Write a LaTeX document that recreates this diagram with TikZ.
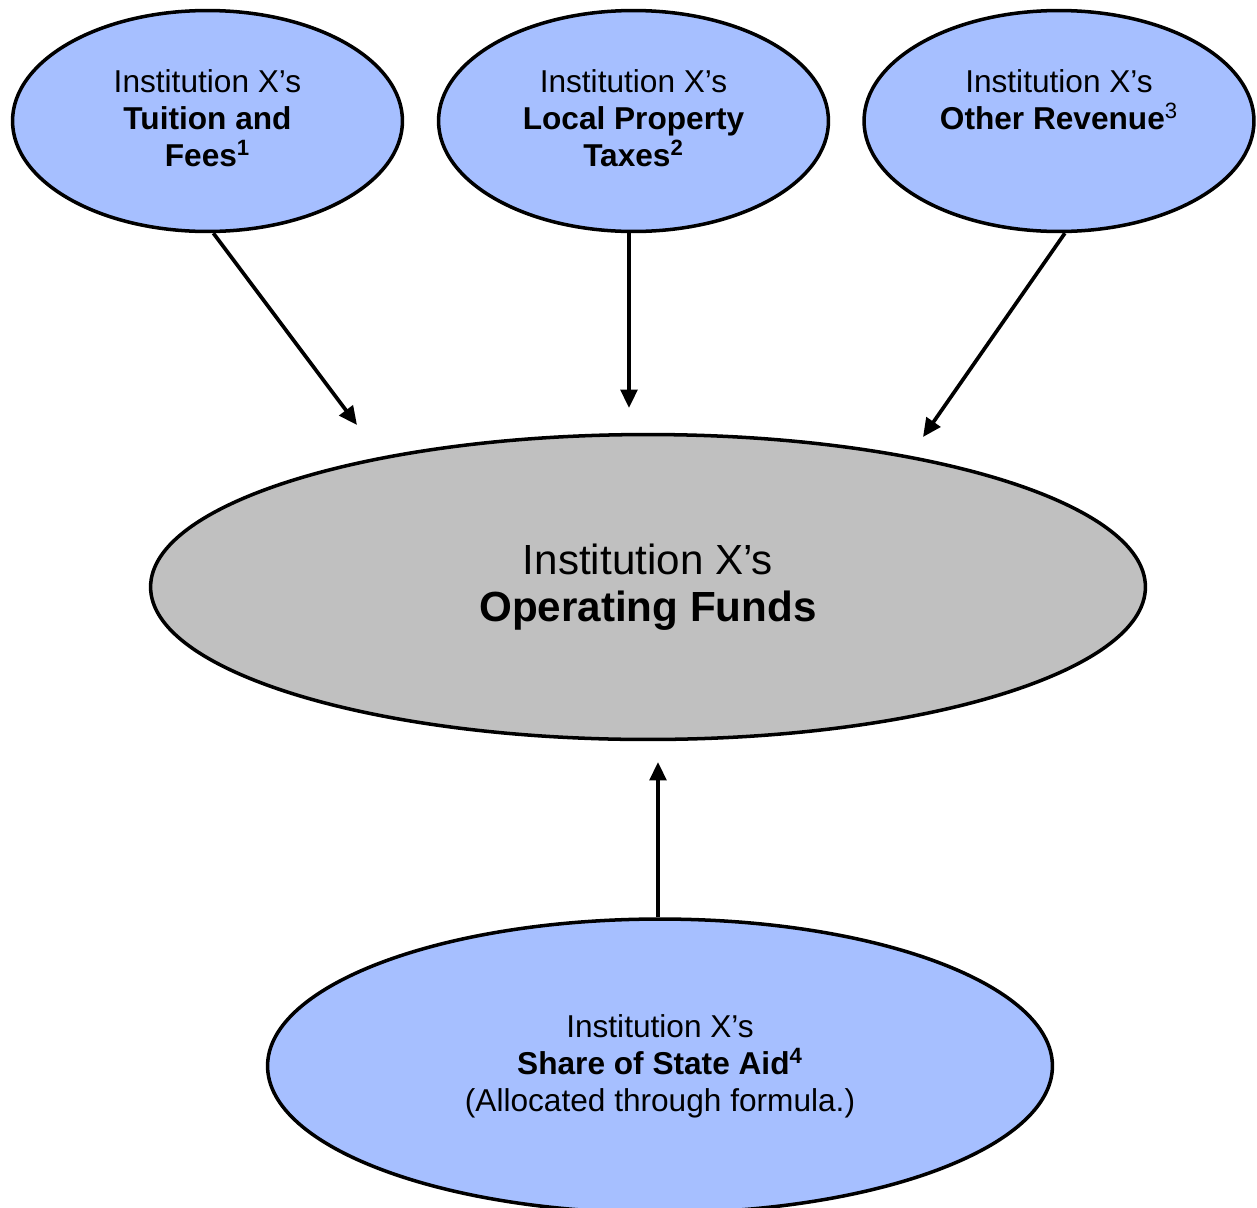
\documentclass[tikz,border=0pt]{standalone}
\usepackage{fontspec}
\setmainfont{Liberation Sans}
\usepackage{xcolor}
\usetikzlibrary{shapes.geometric, arrows.meta, positioning}
\definecolor{srcblue}{RGB}{166,191,255}
\definecolor{fundgray}{RGB}{192,192,192}
\newcommand{\toptext}[1]{\parbox[c][2.04cm][t]{5.2cm}{\centering #1}}

\begin{document}
\begin{tikzpicture}[x=0.02cm, y=-0.02cm,
	every node/.style={font=\fontsize{18}{21}\selectfont},
	source/.style={ellipse, draw, line width=2pt, fill=srcblue, inner sep=0pt, align=center},
	feed/.style={-{Triangle[length=10.5pt,width=9.5pt]}, line width=2.1pt}]
	\useasboundingbox (0,0) rectangle (1257,1207);
	% revenue sources
	\node[source, minimum width=7.8cm, minimum height=4.42cm] (tuition) at (207.5,121)
		{\toptext{Institution X's\\ \textbf{Tuition and}\\ \textbf{Fees\textsuperscript{1}}}};
	\node[source, minimum width=7.8cm, minimum height=4.42cm] (taxes) at (633.5,121)
		{\toptext{Institution X's\\ \textbf{Local Property}\\ \textbf{Taxes\textsuperscript{2}}}};
	\node[source, minimum width=7.8cm, minimum height=4.42cm] (other) at (1059,121)
		{\toptext{Institution X's\\ \textbf{Other Revenue}\textsuperscript{3}}};
	\node[source, minimum width=19.9cm, minimum height=6.1cm, fill=fundgray,
		font=\fontsize{24}{27}\selectfont] (funds) at (648,587)
		{Institution X's\\ \textbf{Operating Funds}};
	\node[source, minimum width=15.7cm, minimum height=5.88cm] (aid) at (660,1066)
		{Institution X's\\ \textbf{Share of State Aid\textsuperscript{4}}\\ (Allocated through formula.)};
	% arrow ends
	\coordinate (in1) at (357,425);
	\coordinate (in2) at (629,408);
	\coordinate (in3) at (923,437);
	\coordinate (in4) at (658,762);
	\draw[feed] (tuition.-87) -- (in1);
	\draw[feed] (taxes.south -| in2) -- (in2);
	\draw[feed] (other.-87) -- (in3);
	\draw[feed] (aid.north -| in4) -- (in4);
\end{tikzpicture}
\end{document}
